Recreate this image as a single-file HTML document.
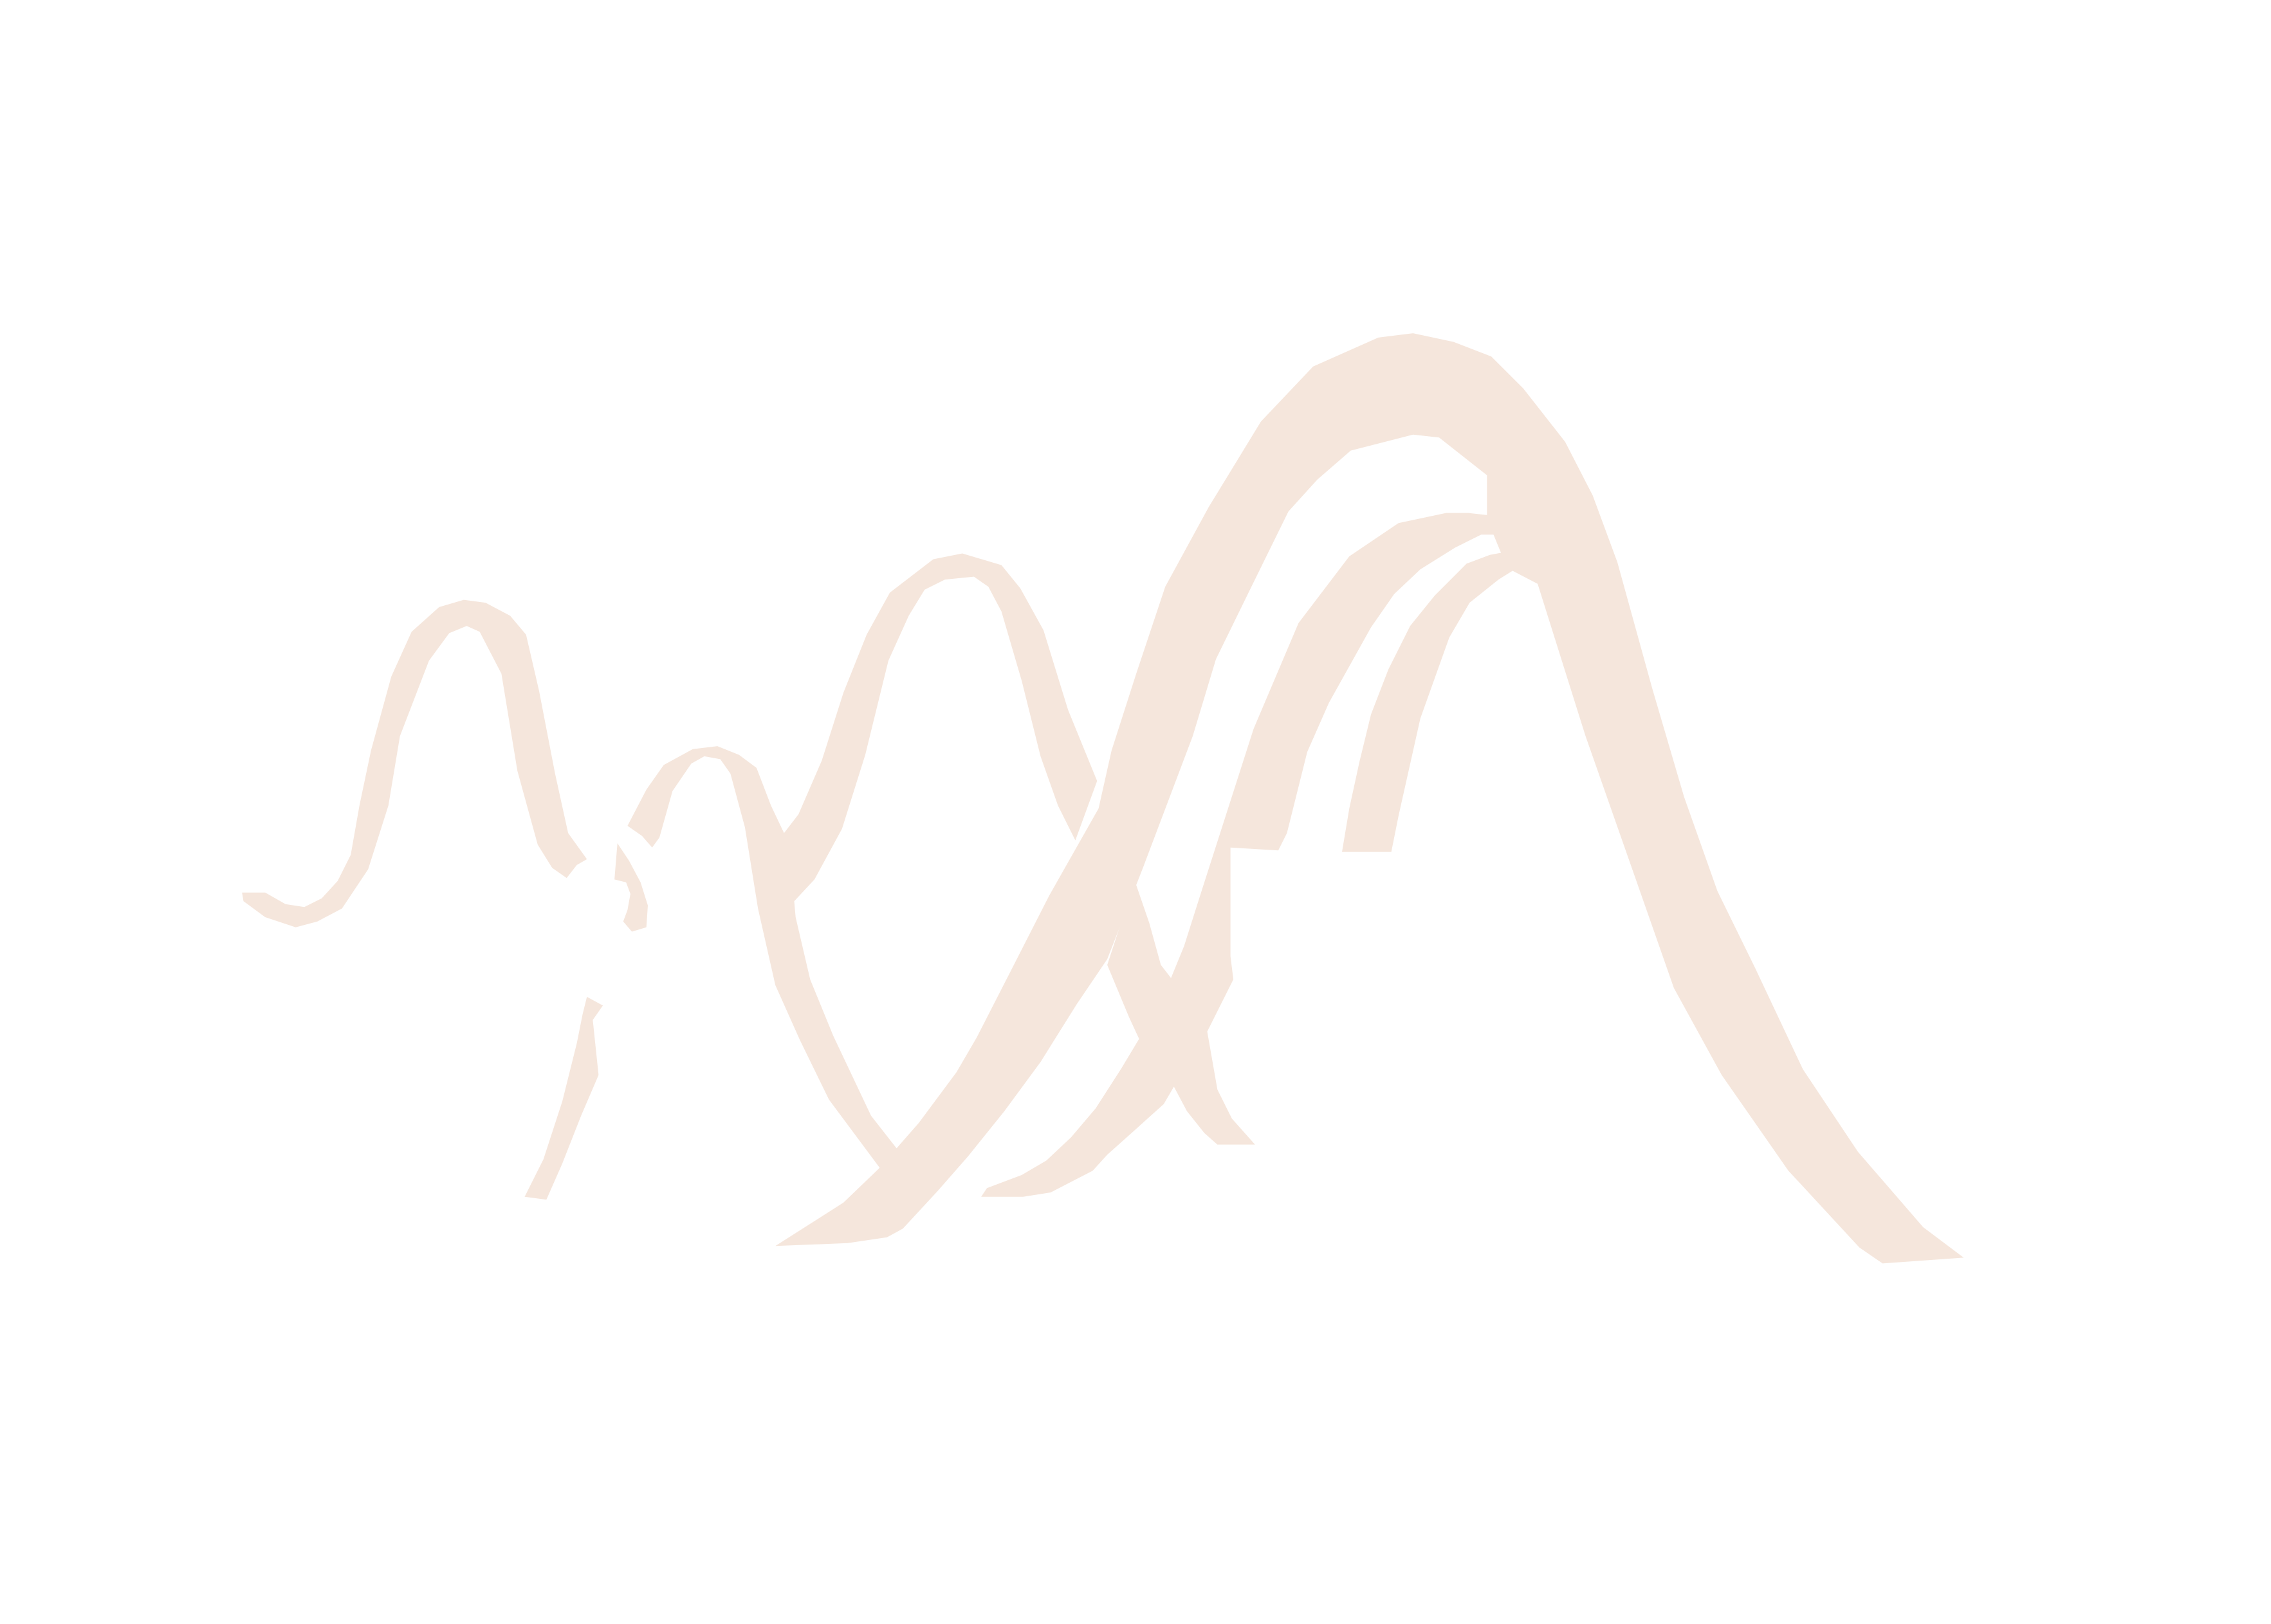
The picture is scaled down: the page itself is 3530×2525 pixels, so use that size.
<!DOCTYPE html>
<html>
<head>
<meta charset="utf-8">
<style>
html,body{margin:0;padding:0;background:#ffffff;}
svg{display:block;}
</style>
</head>
<body>
<svg id="chart" width="3530" height="2525" viewBox="0 0 3530 2525" xmlns="http://www.w3.org/2000/svg">
<rect x="0" y="0" width="3530" height="2525" fill="#ffffff"/>
<g id="marks"></g>
</svg>
<script>
const ridgeLeftX = [167,183,197,210,222,233,242,248,256,270,284,303,320,335,352,363,372,383,392,405,398,391,381,371,357,346,331,322,310,296,276,268,254,236,219,204,183,168];
const ridgeLeftY = [616,616,624,626,620,608,590,556,518,467,436,419,414,416,425,438,477,534,575,593,597,606,599,583,532,465,436,432,437,456,508,556,600,627,636,640,633,622];

const ridgeMidX = [433,446,458,478,495,510,522,532,541,551,567,582,598,614,644,664,691,704,720,737,757,742,730,718,705,691,682,672,652,638,627,613,597,581,562,548,549,559,575,601,619,607,572,552,535,523,514,504,497,486,477,464,455,450,443];
const ridgeMidY = [570,545,528,517,515,521,530,556,575,562,525,478,438,409,386,382,390,406,435,490,539,580,556,522,470,422,405,398,400,407,425,456,521,572,607,622,633,676,715,770,793,806,759,718,680,627,571,534,524,522,527,546,578,585,577];

const fragAX = [426,434,442,447,446,436,430,433,435,432,424];
const fragAY = [582,594,609,625,640,643,636,628,617,609,607];

const fragBX = [405,416,409,413,401,388,377,362,375,388,398,402];
const fragBY = [688,694,704,742,770,803,828,826,800,760,720,700];

const ridgeBigX = [535,582,606,634,660,674,697,724,758,767,784,804,834,870,906,951,975,1003,1029,1051,1080,1099,1116,1140,1162,1185,1211,1244,1282,1327,1355,1299,1283,1234,1188,1155,1127,1094,1061,1040,1026,1026,993,975,932,909,889,861,839,823,789,764,743,718,693,668,647,623,612,585];
const ridgeBigY = [860,830,807,775,740,716,671,618,558,518,465,405,350,291,253,233,230,236,246,268,305,342,388,475,550,615,668,738,795,847,868,872,861,808,742,682,602,508,403,392,358,328,302,300,311,331,353,410,455,508,598,662,693,733,767,798,822,848,854,858];

const ridgeRightX = [783,793,801,808,817,830,848,865,896,931,965,998,1013,1040,1053,1044,1028,1012,990,973,958,946,938,931,926,960,965,980,1000,1014,1034,1050,1046,1037,1022,1004,980,962,946,917,902,888,882,849,849,851,833,840,850,866,840,831,819,810,803,783,764,754,725,706,677,681,705,722,739,756,774,786,779,764];
const ridgeRightY = [608,637,666,675,653,612,556,503,430,384,361,354,354,357,382,380,383,389,411,432,462,493,526,558,588,588,563,496,440,416,400,390,372,369,369,378,393,410,433,485,519,575,587,585,660,676,712,752,772,790,790,782,767,750,762,780,797,808,823,826,826,820,811,801,785,765,737,717,702,666];

const shapes = [
  {name:'ridge-left', xs:ridgeLeftX, ys:ridgeLeftY},
  {name:'ridge-middle', xs:ridgeMidX, ys:ridgeMidY},
  {name:'fragment-a', xs:fragAX, ys:fragAY},
  {name:'fragment-b', xs:fragBX, ys:fragBY},
  {name:'ridge-big', xs:ridgeBigX, ys:ridgeBigY},
  {name:'ridge-right', xs:ridgeRightX, ys:ridgeRightY}
];

const K = 3530/1567;
function xs(v){ return v*K; }
function ys(v){ return v*K; }

const g = document.getElementById('marks');
shapes.forEach(function(s){
  const p = document.createElementNS('http://www.w3.org/2000/svg','polygon');
  const pts = s.xs.map(function(x,i){ return xs(x).toFixed(1)+','+ys(s.ys[i]).toFixed(1); }).join(' ');
  p.setAttribute('points', pts);
  p.setAttribute('fill', '#f5e6dc');
  p.setAttribute('fill-rule', 'nonzero');
  
  
  g.appendChild(p);
});
</script>
</body>
</html>
